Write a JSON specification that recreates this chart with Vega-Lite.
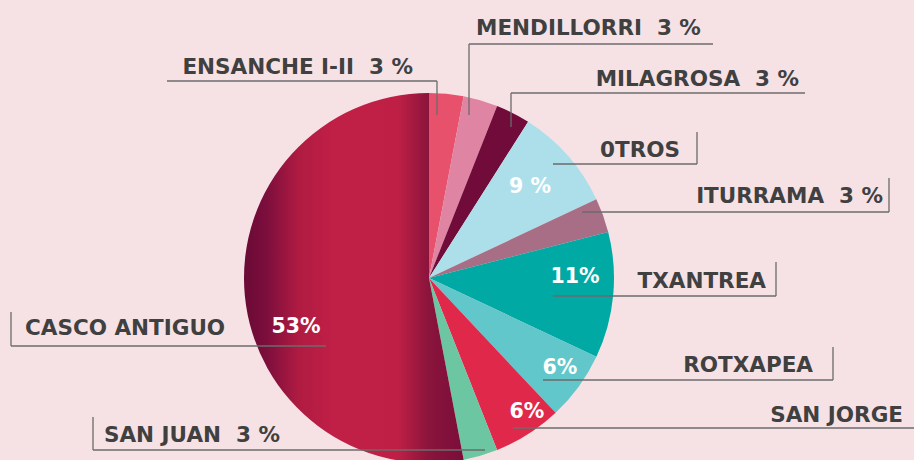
{
  "$schema": "https://vega.github.io/schema/vega-lite/v6.json",
  "width": 914,
  "height": 460,
  "autosize": "none",
  "padding": 0,
  "background": "#f6e2e5",
  "config": {"view": {"stroke": null}},
  "datasets": {
    "slices": [
      {"name": "ENSANCHE I-II", "pct": 3, "order": 1},
      {"name": "MENDILLORRI", "pct": 3, "order": 2},
      {"name": "MILAGROSA", "pct": 3, "order": 3},
      {"name": "0TROS", "pct": 9, "order": 4},
      {"name": "ITURRAMA", "pct": 3, "order": 5},
      {"name": "TXANTREA", "pct": 11, "order": 6},
      {"name": "ROTXAPEA", "pct": 6, "order": 7},
      {"name": "SAN JORGE", "pct": 6, "order": 8},
      {"name": "SAN JUAN", "pct": 3, "order": 9},
      {"name": "CASCO ANTIGUO", "pct": 53, "order": 10}
    ],
    "lines": [
      {"x": 167, "y": 81, "x2": 437, "y2": 81},
      {"x": 437, "y": 81, "x2": 437, "y2": 115},
      {"x": 469, "y": 44, "x2": 713, "y2": 44},
      {"x": 469, "y": 44, "x2": 469, "y2": 115},
      {"x": 511, "y": 93, "x2": 805, "y2": 93},
      {"x": 511, "y": 93, "x2": 511, "y2": 127},
      {"x": 553, "y": 164, "x2": 697, "y2": 164},
      {"x": 697, "y": 132, "x2": 697, "y2": 164},
      {"x": 582, "y": 212, "x2": 889, "y2": 212},
      {"x": 889, "y": 178, "x2": 889, "y2": 212},
      {"x": 553, "y": 296, "x2": 776, "y2": 296},
      {"x": 776, "y": 262, "x2": 776, "y2": 296},
      {"x": 543, "y": 380, "x2": 833, "y2": 380},
      {"x": 833, "y": 347, "x2": 833, "y2": 380},
      {"x": 513, "y": 428, "x2": 914, "y2": 428},
      {"x": 11, "y": 346, "x2": 326, "y2": 346},
      {"x": 11, "y": 312, "x2": 11, "y2": 346},
      {"x": 93, "y": 450, "x2": 485, "y2": 450},
      {"x": 93, "y": 417, "x2": 93, "y2": 450}
    ],
    "labelsLeft": [
      {"label": "MENDILLORRI\u00a0 3 %", "x": 476, "y": 35},
      {"label": "CASCO ANTIGUO", "x": 25, "y": 335},
      {"label": "SAN JUAN\u00a0 3 %", "x": 104, "y": 442}
    ],
    "labelsRight": [
      {"label": "ENSANCHE I-II\u00a0 3 %", "x": 413, "y": 74},
      {"label": "MILAGROSA\u00a0 3 %", "x": 799, "y": 86},
      {"label": "0TROS", "x": 680, "y": 157},
      {"label": "ITURRAMA\u00a0 3 %", "x": 883, "y": 203},
      {"label": "TXANTREA", "x": 766, "y": 288},
      {"label": "ROTXAPEA", "x": 813, "y": 372},
      {"label": "SAN JORGE", "x": 903, "y": 422}
    ],
    "pcts": [
      {"label": "9 %", "x": 530, "y": 193},
      {"label": "11%", "x": 575, "y": 283},
      {"label": "6%", "x": 560, "y": 374},
      {"label": "6%", "x": 527, "y": 418},
      {"label": "53%", "x": 296, "y": 333}
    ]
  },
  "layer": [
    {
      "data": {"name": "slices"},
      "mark": {"type": "arc", "radius": 185},
      "encoding": {
        "x": {"datum": 429, "type": "quantitative", "scale": {"domain": [0, 914], "nice": false, "zero": false}, "axis": null},
        "y": {"datum": 278, "type": "quantitative", "scale": {"domain": [0, 460], "reverse": true, "nice": false, "zero": false}, "axis": null},
        "theta": {"field": "pct", "type": "quantitative", "stack": true},
        "order": {"field": "order", "type": "quantitative"},
        "color": {
          "condition": {
            "test": "datum.name === 'CASCO ANTIGUO'",
            "value": {
              "gradient": "linear",
              "x1": 0, "y1": 0, "x2": 1, "y2": 0,
              "stops": [
                {"offset": 0, "color": "#6a0a35"},
                {"offset": 0.1, "color": "#7b0e3c"},
                {"offset": 0.25, "color": "#b01b42"},
                {"offset": 0.4, "color": "#c01f46"},
                {"offset": 0.7, "color": "#bf1f45"},
                {"offset": 0.84, "color": "#8a143c"},
                {"offset": 1, "color": "#7a0e3a"}
              ]
            }
          },
          "field": "name",
          "type": "nominal",
          "scale": {
            "domain": ["ENSANCHE I-II", "MENDILLORRI", "MILAGROSA", "0TROS", "ITURRAMA", "TXANTREA", "ROTXAPEA", "SAN JORGE", "SAN JUAN", "CASCO ANTIGUO"],
            "range": ["#e8516c", "#e084a3", "#710b39", "#acdfea", "#a86e85", "#00a9a4", "#61c7cb", "#e0284b", "#6cc6a1", "#be1f45"]
          },
          "legend": null
        }
      }
    },
    {
      "data": {"name": "lines"},
      "mark": {"type": "rule", "color": "#6b6b6b", "strokeWidth": 1.3},
      "encoding": {
        "x": {"field": "x", "type": "quantitative"},
        "x2": {"field": "x2"},
        "y": {"field": "y", "type": "quantitative"},
        "y2": {"field": "y2"}
      }
    },
    {
      "data": {"name": "labelsLeft"},
      "mark": {"type": "text", "align": "left", "baseline": "alphabetic", "font": "DejaVu Sans", "fontWeight": "bold", "fontSize": 21.5, "color": "#404040"},
      "encoding": {
        "x": {"field": "x", "type": "quantitative"},
        "y": {"field": "y", "type": "quantitative"},
        "text": {"field": "label"}
      }
    },
    {
      "data": {"name": "labelsRight"},
      "mark": {"type": "text", "align": "right", "baseline": "alphabetic", "font": "DejaVu Sans", "fontWeight": "bold", "fontSize": 21.5, "color": "#404040"},
      "encoding": {
        "x": {"field": "x", "type": "quantitative"},
        "y": {"field": "y", "type": "quantitative"},
        "text": {"field": "label"}
      }
    },
    {
      "data": {"name": "pcts"},
      "mark": {"type": "text", "align": "center", "baseline": "alphabetic", "font": "DejaVu Sans", "fontWeight": "bold", "fontSize": 20.5, "color": "#ffffff"},
      "encoding": {
        "x": {"field": "x", "type": "quantitative"},
        "y": {"field": "y", "type": "quantitative"},
        "text": {"field": "label"}
      }
    }
  ]
}
